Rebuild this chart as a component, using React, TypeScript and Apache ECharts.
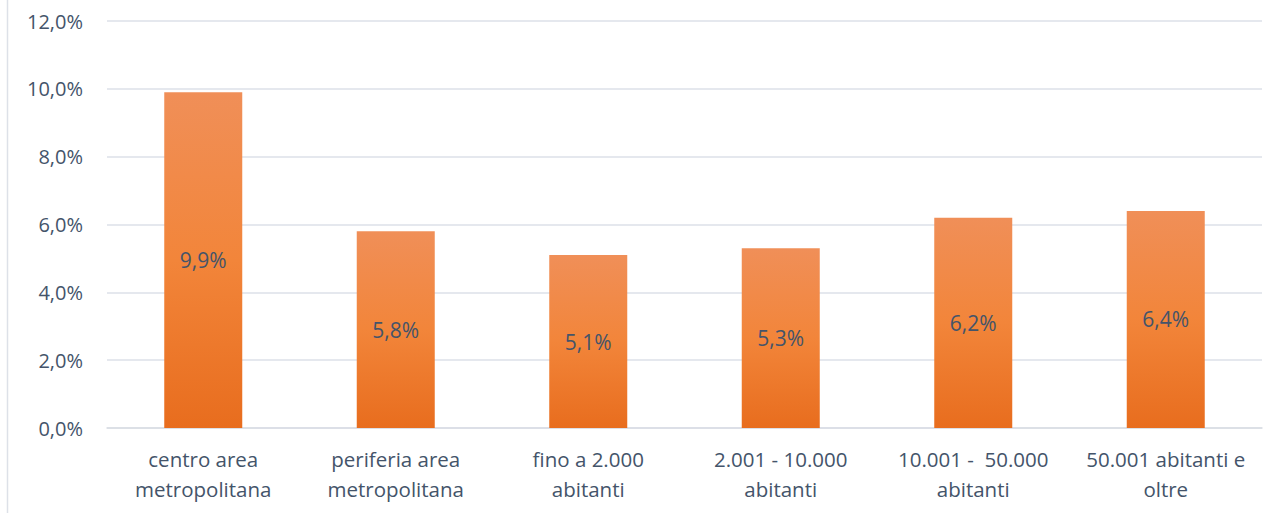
import React, { useEffect, useRef } from "react";
import * as echarts from "echarts";

const categories = [
  "centro area\nmetropolitana",
  "periferia area\nmetropolitana",
  "fino a 2.000\nabitanti",
  "2.001 - 10.000\nabitanti",
  "10.001 -  50.000\nabitanti",
  "50.001 abitanti e\noltre",
];
const values = [9.9, 5.8, 5.1, 5.3, 6.2, 6.4];

const fmt = (v: number) => v.toFixed(1).replace(".", ",") + "%";
const textColor = "#44546A";
const font = "'Open Sans', sans-serif";

export default function App() {
  const ref = useRef<HTMLDivElement>(null);
  useEffect(() => {
    if (!ref.current) return;
    const chart = echarts.init(ref.current, undefined, { renderer: "svg" });
    chart.setOption({
      animation: false,
      backgroundColor: "#ffffff",
      grid: { left: 107, right: 18, top: 21, bottom: 85 },
      graphic: [
        {
          type: "line",
          shape: { x1: 7.5, y1: 0, x2: 7.5, y2: 513 },
          style: { stroke: "#DDE1E8", lineWidth: 1.5 },
        },
      ],
      xAxis: {
        type: "category",
        data: categories,
        axisLine: { show: true, lineStyle: { color: "#D9DDE4", width: 1.5 } },
        axisTick: { show: false },
        axisLabel: {
          color: textColor,
          fontFamily: font,
          fontSize: 20.5,
          lineHeight: 30,
          margin: 16,
          interval: 0,
        },
      },
      yAxis: {
        type: "value",
        min: 0,
        max: 12,
        interval: 2,
        axisLine: { show: false },
        axisTick: { show: false },
        splitLine: { lineStyle: { color: "#DDE1E8", width: 1.5 } },
        axisLabel: {
          color: textColor,
          fontFamily: font,
          fontSize: 20,
          margin: 24,
          formatter: (v: number) => fmt(v),
        },
      },
      series: [
        {
          type: "bar",
          data: values,
          barWidth: 78,
          itemStyle: {
            color: new echarts.graphic.LinearGradient(0, 0, 0, 1, [
              { offset: 0, color: "#F08F58" },
              { offset: 0.5, color: "#F2853A" },
              { offset: 1, color: "#E86D1E" },
            ]),
          },
          label: {
            show: true,
            position: "inside",
            color: textColor,
            fontFamily: font,
            fontSize: 21,
            formatter: (p: any) => fmt(p.value),
          },
        },
      ],
    });
    return () => chart.dispose();
  }, []);
  return (
    <div
      ref={ref}
      style={{ position: "fixed", left: 0, top: 0, width: 1280, height: 513 }}
    />
  );
}
